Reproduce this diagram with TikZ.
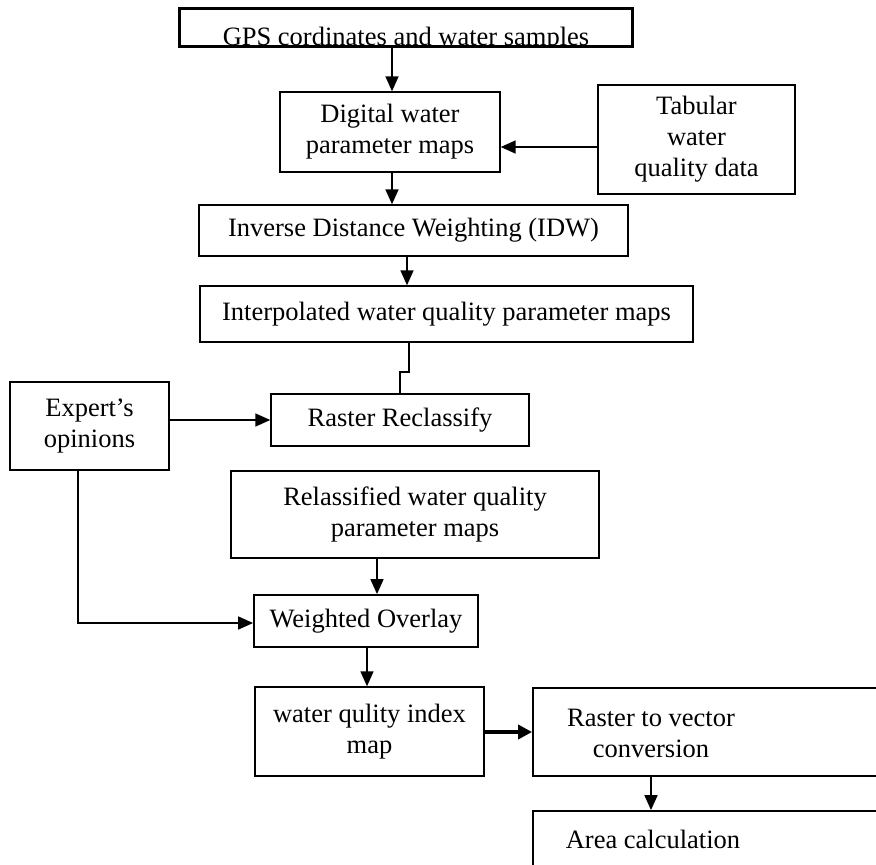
\documentclass[tikz,border=0pt]{standalone}
\usepackage{fontspec}
\setmainfont{Liberation Serif}
\usetikzlibrary{arrows.meta}
\begin{document}
\begin{tikzpicture}[x=1pt,y=-1pt,
  box/.style={draw, line width=1.4pt, inner sep=0pt, align=center, font=\fontsize{26.5}{31}\selectfont},
  txt/.style={inner sep=0pt, align=center, font=\fontsize{26.5}{31}\selectfont},
  arr/.style={-{Triangle[length=15pt,width=13pt]}, line width=1.7pt},
  ln/.style={line width=1.7pt}]
\clip (0,0) rectangle (876,865);
\fill[white] (0,0) rectangle (876,865);
% GPS box with clipped text
\node[box, line width=1.8pt, minimum width=452pt, minimum height=37pt] (gps) at (406,27.5) {};
\begin{scope}
  \clip (gps.south west) rectangle (gps.north east);
  \node[txt, anchor=base] (gpst) at (406,45.5) {GPS cordinates and water samples};
\end{scope}
\draw[line width=1.8pt] (gps.south west) rectangle (gps.north east);

\node[box, minimum width=220pt, minimum height=80pt] (dig) at (390,132) {Digital water\\parameter maps};
\node[box, line width=1.8pt, minimum width=197pt, minimum height=109pt] (tab) at (696.5,139.5) {Tabular\\water\\quality data};
\node[box, minimum width=429pt, minimum height=51pt] (idw) at (413.5,230.5) {Inverse Distance Weighting (IDW)};
\node[box, minimum width=493pt, minimum height=56pt] (interp) at (446.5,314) {Interpolated water quality parameter maps};
\node[box, minimum width=258pt, minimum height=52pt] (rr) at (400,420) {Raster Reclassify};
\node[box, minimum width=159pt, minimum height=88pt] (exp) at (89.5,426) {Expert’s\\opinions};
\node[box, minimum width=368pt, minimum height=87pt] (rel) at (415,514.5) {Relassified water quality\\parameter maps};
\node[box, line width=1.8pt, minimum width=224pt, minimum height=52pt] (wo) at (366,621) {Weighted Overlay};
\node[box, minimum width=229pt, minimum height=89pt] (wqi) at (369.5,731.5) {water qulity index\\map};
\node[box, line width=1.8pt, minimum width=367pt, minimum height=88pt] (r2v) at (716.5,732) {};
\node[txt] (r2vt) at (651,733) {Raster to vector\\conversion};
\node[box, line width=1.8pt, minimum width=367pt, minimum height=100pt] (area) at (716.5,861) {};
\node[txt] (areat) at (653,839) {Area calculation};

% connectors
\draw[arr] (gps.south -| 392,0) -- (dig.north -| 392,0);
\draw[arr] (tab.west |- 0,147) -- (dig.east |- 0,147);
\draw[arr] (dig.south -| 392,0) -- (idw.north -| 392,0);
\draw[arr] (idw.south -| 407,0) -- (interp.north -| 407,0);
\draw[ln] (interp.south -| 409,0) -- (409,372) -- (400,372) -- (rr.north -| 400,0);
\draw[arr] (exp.east |- 0,420) -- (rr.west |- 0,420);
\draw[arr] (rel.south -| 377,0) -- (wo.north -| 377,0);
\draw[arr] (exp.south -| 78,0) -- (78,623) -- (wo.west |- 0,623);
\draw[arr] (wo.south -| 367,0) -- (wqi.north -| 367,0);
\draw[-{Triangle[length=14pt,width=14pt]}, line width=3.8pt] (wqi.east |- 0,732) -- (r2v.west |- 0,732);
\draw[arr] (r2v.south -| r2vt) -- (area.north -| r2vt);
\end{tikzpicture}
\end{document}
